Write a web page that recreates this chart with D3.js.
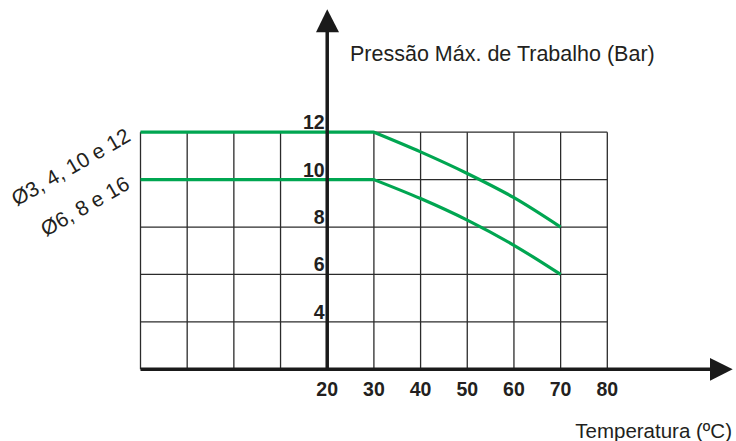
<!DOCTYPE html>
<html lang="pt">
<head>
<meta charset="UTF-8">
<title>Pressão x Temperatura</title>
<script src="https://cdn.jsdelivr.net/npm/d3@7"></script>
<style>
    body { margin: 0; background: #fff; }
    svg { display: block; font-family: "Liberation Sans", Arial, sans-serif; }
</style>
</head>
<body>
<div id="chart"></div>
<script>
// temperature ticks (ºC) and pressure ticks (bar)
var xTicks = [20, 30, 40, 50, 60, 70, 80];
var yTicks = [4, 6, 8, 10, 12];

// curves
var seriesNames = ["Ø3, 4, 10 e 12", "Ø6, 8 e 16"];
var temps = [-20, 30, 40, 50, 60, 70];
var upperPressure = [12, 12, 11.17, 10.26, 9.24, 8];
var lowerPressure = [10, 10, 9.2, 8.29, 7.23, 6];

var width = 736, height = 441;

var svg = d3.select("#chart").append("svg")
    .attr("width", width)
    .attr("height", height);

var x = d3.scaleLinear().domain([-20, 80]).range([140.5, 607.3]);
var y = d3.scaleLinear().domain([2, 12]).range([369.3, 132.2]);

// grid
var grid = svg.append("g").attr("stroke", "#2b2b2b").attr("stroke-width", 1.3);
d3.range(-20, 81, 10).forEach(function (v) {
    grid.append("line")
        .attr("x1", x(v)).attr("x2", x(v))
        .attr("y1", y(2)).attr("y2", y(12));
});
d3.range(4, 13, 2).forEach(function (v) {
    grid.append("line")
        .attr("x1", x(-20)).attr("x2", x(80))
        .attr("y1", y(v)).attr("y2", y(v));
});

// curves: flat part straight, then a smooth drop from 30ºC
var curve = d3.line()
    .x(function (d) { return x(d[0]); })
    .y(function (d) { return y(d[1]); })
    .curve(d3.curveMonotoneX);

[upperPressure, lowerPressure].forEach(function (p) {
    var pts = d3.zip(temps, p);
    var flat = "M" + x(pts[0][0]) + "," + y(pts[0][1]);
    svg.append("path")
        .attr("fill", "none")
        .attr("stroke", "#00a651")
        .attr("stroke-width", 3.2)
        .attr("stroke-linejoin", "round")
        .attr("d", flat + "L" + curve(pts.slice(1)).slice(1));
});

// axes with arrows
svg.append("line")
    .attr("x1", x(-20)).attr("x2", 712)
    .attr("y1", y(2)).attr("y2", y(2))
    .attr("stroke", "#1a1a1a").attr("stroke-width", 3.5);
svg.append("path")
    .attr("d", "M710,358 L732.7,369.3 L710,380.7 Z")
    .attr("fill", "#1a1a1a");

svg.append("line")
    .attr("x1", x(20)).attr("x2", x(20))
    .attr("y1", y(2)).attr("y2", 30)
    .attr("stroke", "#1a1a1a").attr("stroke-width", 3.5);
svg.append("path")
    .attr("d", "M316,32.3 L" + x(20) + ",9.3 L339,32.3 Z")
    .attr("fill", "#1a1a1a");

// tick labels
svg.selectAll("text.xt").data(xTicks).enter().append("text")
    .attr("class", "xt")
    .attr("x", function (d) { return x(d); })
    .attr("y", 396)
    .attr("text-anchor", "middle")
    .attr("font-size", 19.5)
    .attr("font-weight", "bold")
    .attr("fill", "#231f20")
    .text(function (d) { return d; });

svg.selectAll("text.yt").data(yTicks).enter().append("text")
    .attr("class", "yt")
    .attr("x", x(20) - 2.5)
    .attr("y", function (d) { return y(d) - 3; })
    .attr("text-anchor", "end")
    .attr("font-size", 19.5)
    .attr("font-weight", "bold")
    .attr("fill", "#231f20")
    .text(function (d) { return d; });

// titles
svg.append("text")
    .attr("x", 350).attr("y", 61)
    .attr("font-size", 21.5)
    .attr("fill", "#231f20")
    .text("Pressão Máx. de Trabalho (Bar)");

svg.append("text")
    .attr("x", 732).attr("y", 437.5)
    .attr("text-anchor", "end")
    .attr("font-size", 20.5)
    .attr("fill", "#231f20")
    .text("Temperatura (ºC)");

// series labels, rotated
var labelPos = [[132, 140], [131, 188]];
seriesNames.forEach(function (name, i) {
    svg.append("text")
        .attr("transform", "translate(" + labelPos[i][0] + "," + labelPos[i][1] + ") rotate(-30)")
        .attr("text-anchor", "end")
        .attr("font-size", 21)
        .attr("fill", "#231f20")
        .text(name);
});
</script>
</body>
</html>
